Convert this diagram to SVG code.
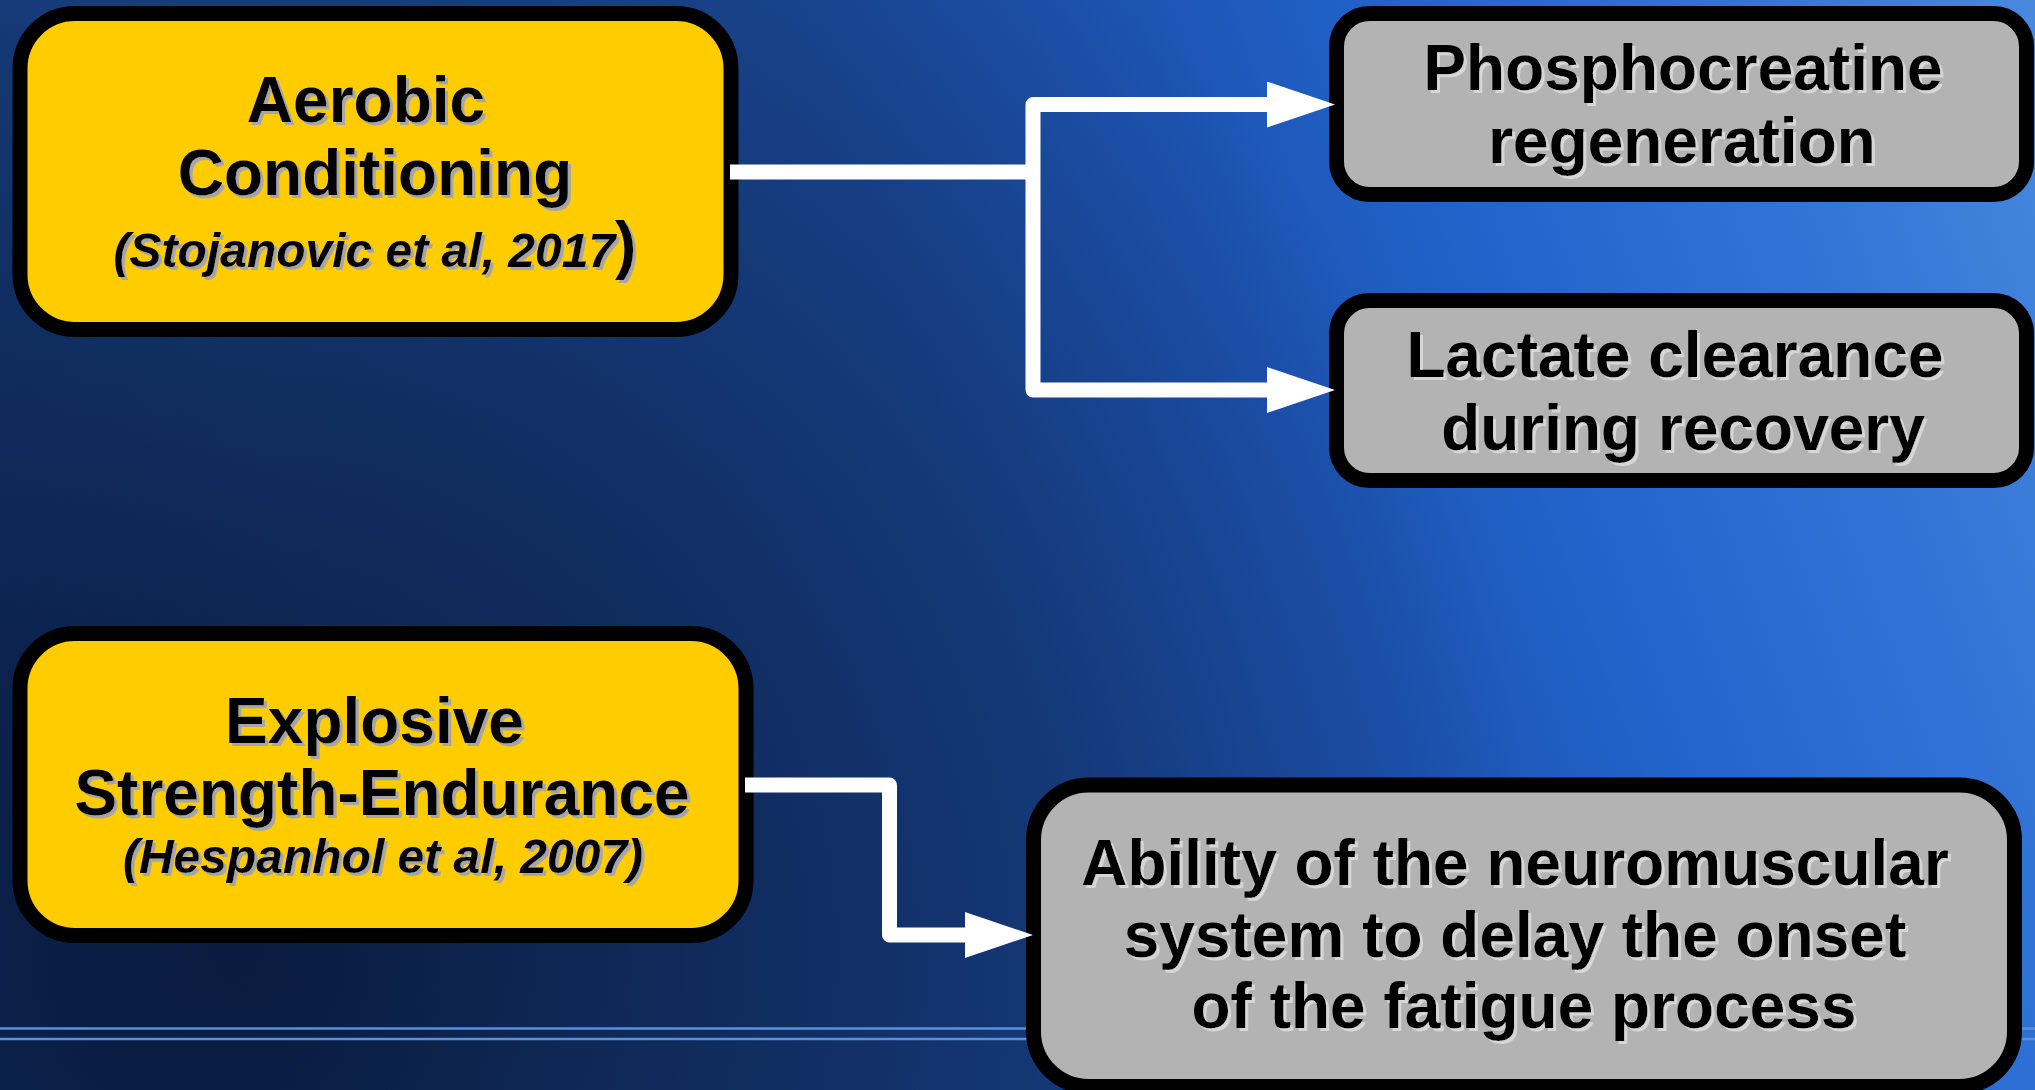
<svg xmlns="http://www.w3.org/2000/svg" width="2035" height="1090" viewBox="0 0 2035 1090">
  <defs>
    <!-- background: blue ramp rising to the upper right -->
    <linearGradient id="bgRamp" gradientUnits="userSpaceOnUse" x1="0" y1="700" x2="2035" y2="-47">
      <stop offset="0" stop-color="#163c7e"/>
      <stop offset="0.15" stop-color="#1c4890"/>
      <stop offset="0.45" stop-color="#1b4a9a"/>
      <stop offset="0.6" stop-color="#1d54b2"/>
      <stop offset="0.72" stop-color="#2264cc"/>
      <stop offset="0.86" stop-color="#3274d6"/>
      <stop offset="1" stop-color="#4a8ade"/>
    </linearGradient>
    <!-- dark pool toward the lower left -->
    <radialGradient id="bgShade" gradientUnits="userSpaceOnUse" cx="250" cy="950" r="1300">
      <stop offset="0" stop-color="#040e26" stop-opacity="0.75"/>
      <stop offset="0.5" stop-color="#040e26" stop-opacity="0.4"/>
      <stop offset="1" stop-color="#040e26" stop-opacity="0"/>
    </radialGradient>
    <marker id="arrow" markerUnits="userSpaceOnUse" markerWidth="68" markerHeight="46" viewBox="0 0 68 46" refX="3" refY="23" orient="auto">
      <path d="M0 0 L68 23 L0 46 Z" fill="#ffffff"/>
    </marker>
    <filter id="shadowDark" x="-5%" y="-10%" width="110%" height="130%">
      <feOffset in="SourceAlpha" dx="3" dy="3" result="off"/>
      <feFlood flood-color="#a6a6a6"/>
      <feComposite in2="off" operator="in" result="sh"/>
      <feMerge><feMergeNode in="sh"/><feMergeNode in="SourceGraphic"/></feMerge>
    </filter>
    <filter id="shadowLight" x="-5%" y="-10%" width="110%" height="130%">
      <feOffset in="SourceAlpha" dx="3" dy="3" result="off"/>
      <feFlood flood-color="#d6d6d6"/>
      <feComposite in2="off" operator="in" result="sh"/>
      <feMerge><feMergeNode in="sh"/><feMergeNode in="SourceGraphic"/></feMerge>
    </filter>
    <style>
      .cause { fill: #ffcc00; stroke: #000000; stroke-width: 15; }
      .effect { fill: #b3b3b3; stroke: #000000; stroke-width: 15; }
      .label { font-family: "Liberation Sans", Arial, sans-serif; font-weight: bold; font-size: 64px; fill: #000000; text-anchor: middle; }
      .cite { font-style: italic; font-size: 48px; }
      .paren { font-style: normal; font-size: 64px; }
      .link { fill: none; stroke: #ffffff; stroke-width: 15; stroke-linejoin: round; }
      .rule { stroke: #5d8ed8; stroke-width: 2.5; }
    </style>
  </defs>

  <!-- background -->
  <rect x="0" y="0" width="2035" height="1090" fill="url(#bgRamp)"/>
  <rect x="0" y="0" width="2035" height="1090" fill="url(#bgShade)"/>
  <g id="rules">
    <line class="rule" x1="0" y1="1028.5" x2="2035" y2="1028.5"/>
    <line class="rule" x1="0" y1="1039" x2="2035" y2="1039"/>
  </g>

  <!-- source nodes -->
  <g id="node-aerobic">
    <rect class="cause" x="20" y="13.5" width="711" height="316" rx="55" ry="55"/>
    <g filter="url(#shadowDark)">
      <text class="label" x="366" y="122">Aerobic</text>
      <text class="label" x="375" y="195">Conditioning</text>
      <text class="label" x="375" y="267"><tspan class="cite">(Stojanovic et al, 2017</tspan><tspan class="paren">)</tspan></text>
    </g>
  </g>

  <g id="node-explosive">
    <rect class="cause" x="20" y="633.5" width="726" height="302" rx="55" ry="55"/>
    <g filter="url(#shadowDark)">
      <text class="label" x="374.5" y="743">Explosive</text>
      <text class="label" x="382" y="815">Strength-Endurance</text>
      <text class="label cite" x="383" y="873">(Hespanhol et al, 2007)</text>
    </g>
  </g>

  <!-- outcome nodes -->
  <g id="node-phosphocreatine">
    <rect class="effect" x="1336.5" y="13.5" width="690" height="181" rx="33" ry="33"/>
    <g filter="url(#shadowLight)">
      <text class="label" x="1683" y="90">Phosphocreatine</text>
      <text class="label" x="1682" y="163">regeneration</text>
    </g>
  </g>

  <g id="node-lactate">
    <rect class="effect" x="1336.5" y="300.5" width="690" height="180" rx="33" ry="33"/>
    <g filter="url(#shadowLight)">
      <text class="label" x="1675" y="377">Lactate clearance</text>
      <text class="label" x="1683" y="450">during recovery</text>
    </g>
  </g>

  <g id="node-neuromuscular">
    <rect class="effect" x="1033.5" y="785" width="981" height="301.5" rx="55" ry="55"/>
    <g filter="url(#shadowLight)">
      <text class="label" x="1515" y="885">Ability of the neuromuscular</text>
      <text class="label" x="1515" y="957">system to delay the onset</text>
      <text class="label" x="1524" y="1028">of the fatigue process</text>
    </g>
  </g>

  <!-- connectors, drawn over the box outlines -->
  <g id="connectors">
    <path class="link" d="M730 172 H1033"/>
    <path class="link" d="M1033 172 V104.5 H1270" marker-end="url(#arrow)"/>
    <path class="link" d="M1033 172 V390 H1270" marker-end="url(#arrow)"/>
    <path class="link" d="M745 785 H889.5 V935 H968" marker-end="url(#arrow)"/>
  </g>
</svg>
